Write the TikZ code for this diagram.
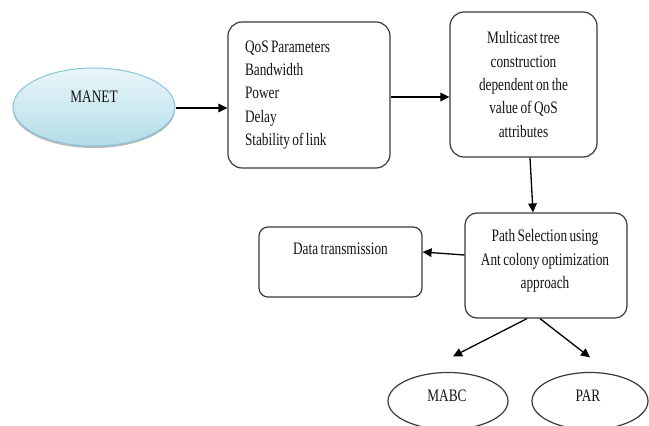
\documentclass[tikz,border=0pt]{standalone}
\usepackage{fontspec}
\setmainfont{Liberation Serif}[FakeStretch=0.76, WordSpace=0.72]
\usetikzlibrary{arrows.meta,shapes.geometric,calc}
\definecolor{boxline}{HTML}{3A3A3A}
\definecolor{inktext}{HTML}{141414}
\definecolor{skytop}{HTML}{EAF6FA}
\definecolor{skybot}{HTML}{B3DCE8}
\definecolor{skyedge}{HTML}{86C6D8}
\tikzset{
  x=1pt, y=-1pt,
  every node/.style={font=\fontsize{17.5}{23.4}\selectfont, text=inktext},
  rbox/.style={draw=boxline, line width=1.2pt, rounded corners=#1, inner sep=0pt},
  rbox/.default=14pt,
  oval/.style={ellipse, draw=boxline, line width=1.2pt, inner sep=0pt},
  arr/.style={draw=black, line width=1.3pt, -{Triangle[length=9pt,width=8.5pt]}},
  plain/.style={inner sep=0pt}
}
\begin{document}
\begin{tikzpicture}
\useasboundingbox (0,0) rectangle (649,426);
\fill[white] (0,0) rectangle (649,426);

% MANET: shaded oval with a soft shadow underneath
\fill[gray!55] (94,109.5) ellipse [x radius=81pt, y radius=38.5pt];
\node[ellipse, minimum width=162pt, minimum height=78pt, inner sep=0pt,
      draw=skyedge, line width=1pt, top color=skytop, bottom color=skybot]
      (manet) at (94,107) {};
\node[plain] (manettxt) at (94,97) {MANET};

% process boxes
\node[rbox, minimum width=162pt, minimum height=146pt, text width=128pt, align=flush left]
  (qos) at (309,95) {QoS Parameters\\Bandwidth\\Power\\Delay\\Stability of link};
\node[rbox, minimum width=147pt, minimum height=145pt, text width=140pt, align=flush center]
  (multi) at (523.5,84.5) {Multicast tree\\construction\\dependent on the\\value of QoS\\attributes};
\node[rbox=12pt, minimum width=162pt, minimum height=105pt] (path) at (546,265.5) {};
\node[plain, align=flush center] (pathtxt) at (545,261) {Path Selection using\\Ant colony optimization\\approach};
\node[rbox=9pt, minimum width=163pt, minimum height=70pt] (data) at (340.5,262) {};
\node[plain] (datatxt) at (340.5,249) {Data transmission};

% protocol ovals
\node[oval, minimum width=120pt, minimum height=57pt] (mabc) at (448,401) {};
\node[plain] (mabctxt) at (447,396) {MABC};
\node[oval, minimum width=116pt, minimum height=57pt] (par) at (590,401) {};
\node[plain] (partxt) at (588,396) {PAR};

% connectors
\draw[arr] ([yshift=-1pt]manet.east) -- ([yshift=-1pt]manet.east -| qos.west);
\draw[arr] ([yshift=-2pt]qos.east) -- ([yshift=-2pt]qos.east -| multi.west);
\draw[arr] ([xshift=6.5pt]multi.south) -- ([xshift=-13pt]path.north);
\draw[arr] ([yshift=10.5pt]path.west) -- ([yshift=10pt]data.east);
\draw[arr] ([xshift=-19pt]path.south) -- ([xshift=5pt,yshift=15.5pt]mabc.north);
\draw[arr] ([xshift=-6pt]path.south) -- ([yshift=14.5pt]par.north);
\end{tikzpicture}
\end{document}
